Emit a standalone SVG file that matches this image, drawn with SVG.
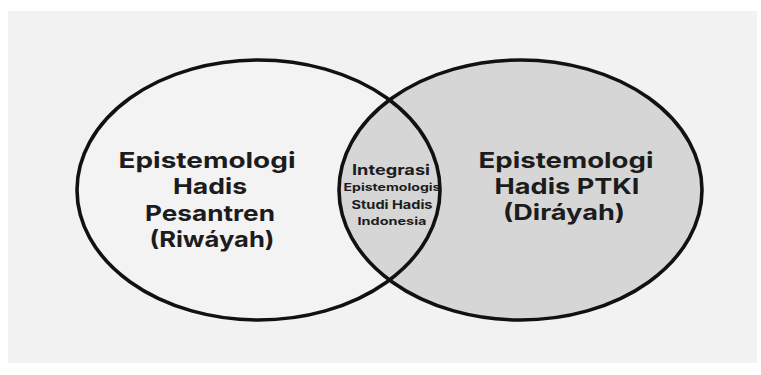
<svg xmlns="http://www.w3.org/2000/svg" width="761" height="375" viewBox="0 0 761 375">
  <style>
    .outline { fill: none; stroke: #111111; stroke-width: 3.6; }
    .lbl { font-family: Inter, "Liberation Sans", Arial, sans-serif; font-weight: 700; fill: #1c1c1c; text-anchor: middle; }
    .big { font-size: 22px; }
    .mid1 { font-size: 14.5px; }
    .mid2 { font-size: 10.5px; }
    .mid3 { font-size: 12px; }
  </style>
  <rect x="0" y="0" width="761" height="375" fill="#ffffff"/>
  <rect x="8" y="11" width="749" height="352" fill="#f2f2f2"/>

  <g id="riwayah">
    <ellipse cx="258.5" cy="190" rx="181.5" ry="130" fill="#f3f3f3"/>
  </g>
  <g id="dirayah">
    <ellipse cx="520.5" cy="190" rx="181.5" ry="130" fill="#d6d6d6"/>
  </g>
  <g id="outlines">
    <ellipse class="outline" cx="258.5" cy="190" rx="181.5" ry="130"/>
    <ellipse class="outline" cx="520.5" cy="190" rx="181.5" ry="130"/>
  </g>

  <g id="riwayah-label" class="lbl big">
    <text x="207" y="168" textLength="177" lengthAdjust="spacingAndGlyphs">Epistemologi</text>
    <text x="210" y="194" textLength="74" lengthAdjust="spacingAndGlyphs">Hadis</text>
    <text x="210" y="221" textLength="130" lengthAdjust="spacingAndGlyphs">Pesantren</text>
    <text x="212" y="247" textLength="125" lengthAdjust="spacingAndGlyphs">(Riwáyah)</text>
  </g>

  <g id="dirayah-label" class="lbl big">
    <text x="566" y="168" textLength="175" lengthAdjust="spacingAndGlyphs">Epistemologi</text>
    <text x="567" y="194" textLength="145" lengthAdjust="spacingAndGlyphs">Hadis PTKI</text>
    <text x="564" y="220" textLength="122" lengthAdjust="spacingAndGlyphs">(Diráyah)</text>
  </g>

  <g id="integrasi" class="lbl">
    <text class="mid1" x="391" y="175" textLength="78" lengthAdjust="spacingAndGlyphs">Integrasi</text>
    <text class="mid2" x="392" y="191" textLength="97" lengthAdjust="spacingAndGlyphs">Epistemologis</text>
    <text class="mid3" x="392" y="209" textLength="81" lengthAdjust="spacingAndGlyphs">Studi Hadis</text>
    <text class="mid2" x="392" y="225" textLength="69" lengthAdjust="spacingAndGlyphs">Indonesia</text>
  </g>

  <g id="connectors"></g>
</svg>
